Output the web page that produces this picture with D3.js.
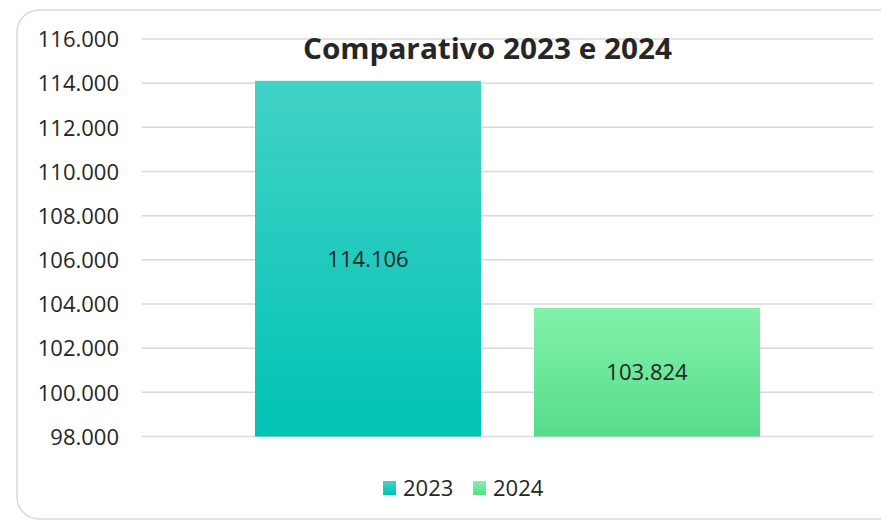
<!DOCTYPE html>
<html lang="pt">
<head>
<meta charset="utf-8">
<title>Comparativo 2023 e 2024</title>
<script src="https://cdn.jsdelivr.net/npm/d3@7"></script>
<style>
body { margin: 0; background: #fff; }
text { font-family: "Open Sans", "DejaVu Sans", sans-serif; fill: #262626; }
.grid line { stroke: #d9d9d9; stroke-width: 1.5; }
</style>
</head>
<body>
<script>

var series = ["2023", "2024"];
var values = [114106, 103824];
var yTicks = [98000, 100000, 102000, 104000, 106000, 108000, 110000, 112000, 114000, 116000];
var title = "Comparativo 2023 e 2024";

var width = 881, height = 521;

var fmt = function(v) { return d3.format(",.0f")(v).replace(/,/g, "."); };

var svg = d3.select("body")
  .append("svg")
  .attr("width", width)
  .attr("height", height);

// gradients for the bars
var defs = svg.append("defs");
var stops = [["#42d2c7", "#00c3b3"], ["#82f2aa", "#57dc8b"]];
stops.forEach(function(c, i) {
  var g = defs.append("linearGradient")
    .attr("id", "grad" + i)
    .attr("x1", 0).attr("y1", 0).attr("x2", 0).attr("y2", 1);
  g.append("stop").attr("offset", "0%").attr("stop-color", c[0]);
  g.append("stop").attr("offset", "100%").attr("stop-color", c[1]);
});

// outer frame, rounded, running off the right edge
svg.append("rect")
  .attr("x", 17).attr("y", 10)
  .attr("width", 900).attr("height", 509)
  .attr("rx", 22)
  .attr("fill", "none")
  .attr("stroke", "#d9d9d9")
  .attr("stroke-width", 1.5);

var plot = { left: 142, right: 873, top: 39, bottom: 436.5 };

var y = d3.scaleLinear()
  .domain([98000, 116000])
  .range([plot.bottom, plot.top]);

// one category, two series side by side
var x = d3.scaleBand()
  .domain(series)
  .range([255, 760])
  .paddingInner(0.19)
  .paddingOuter(0);

// gridlines
svg.append("g")
  .attr("class", "grid")
  .selectAll("line")
  .data(yTicks)
  .enter()
  .append("line")
  .attr("x1", plot.left)
  .attr("x2", plot.right)
  .attr("y1", function(d) { return y(d); })
  .attr("y2", function(d) { return y(d); });

// y labels
var yAxis = d3.axisLeft(y)
  .tickValues(yTicks)
  .tickSize(0)
  .tickPadding(0)
  .tickFormat(fmt);

var ag = svg.append("g")
  .attr("transform", "translate(119,0)")
  .call(yAxis);
ag.select(".domain").remove();
ag.selectAll("text")
  .attr("font-size", 22)
  .attr("dy", "0.35em")
  .style("font-family", null)
  .attr("fill", "#262626");

// bars
svg.selectAll(".bar")
  .data(values)
  .enter()
  .append("rect")
  .attr("class", "bar")
  .attr("x", function(d, i) { return x(series[i]); })
  .attr("width", x.bandwidth())
  .attr("y", function(d) { return y(d); })
  .attr("height", function(d) { return y(98000) - y(d); })
  .attr("fill", function(d, i) { return "url(#grad" + i + ")"; });

// data labels
svg.selectAll(".lbl")
  .data(values)
  .enter()
  .append("text")
  .attr("class", "lbl")
  .attr("x", function(d, i) { return x(series[i]) + x.bandwidth() / 2; })
  .attr("y", function(d) { return (y(d) + y(98000)) / 2 + 8; })
  .attr("text-anchor", "middle")
  .attr("font-size", 22)
  .text(fmt);

// title
svg.append("text")
  .attr("x", 487.5)
  .attr("y", 59)
  .attr("text-anchor", "middle")
  .attr("font-size", 28)
  .attr("font-weight", "bold")
  .attr("textLength", 369)
  .attr("lengthAdjust", "spacingAndGlyphs")
  .text(title);

// legend
var legX = [383, 473];
var leg = svg.selectAll(".leg")
  .data(series)
  .enter()
  .append("g")
  .attr("class", "leg")
  .attr("transform", function(d, i) { return "translate(" + legX[i] + ",481)"; });
leg.append("rect")
  .attr("width", 13).attr("height", 14)
  .attr("fill", function(d, i) { return "url(#grad" + i + ")"; });
leg.append("text")
  .attr("x", 20)
  .attr("y", 15)
  .attr("font-size", 22)
  .text(function(d) { return d; });

</script>
</body>
</html>
